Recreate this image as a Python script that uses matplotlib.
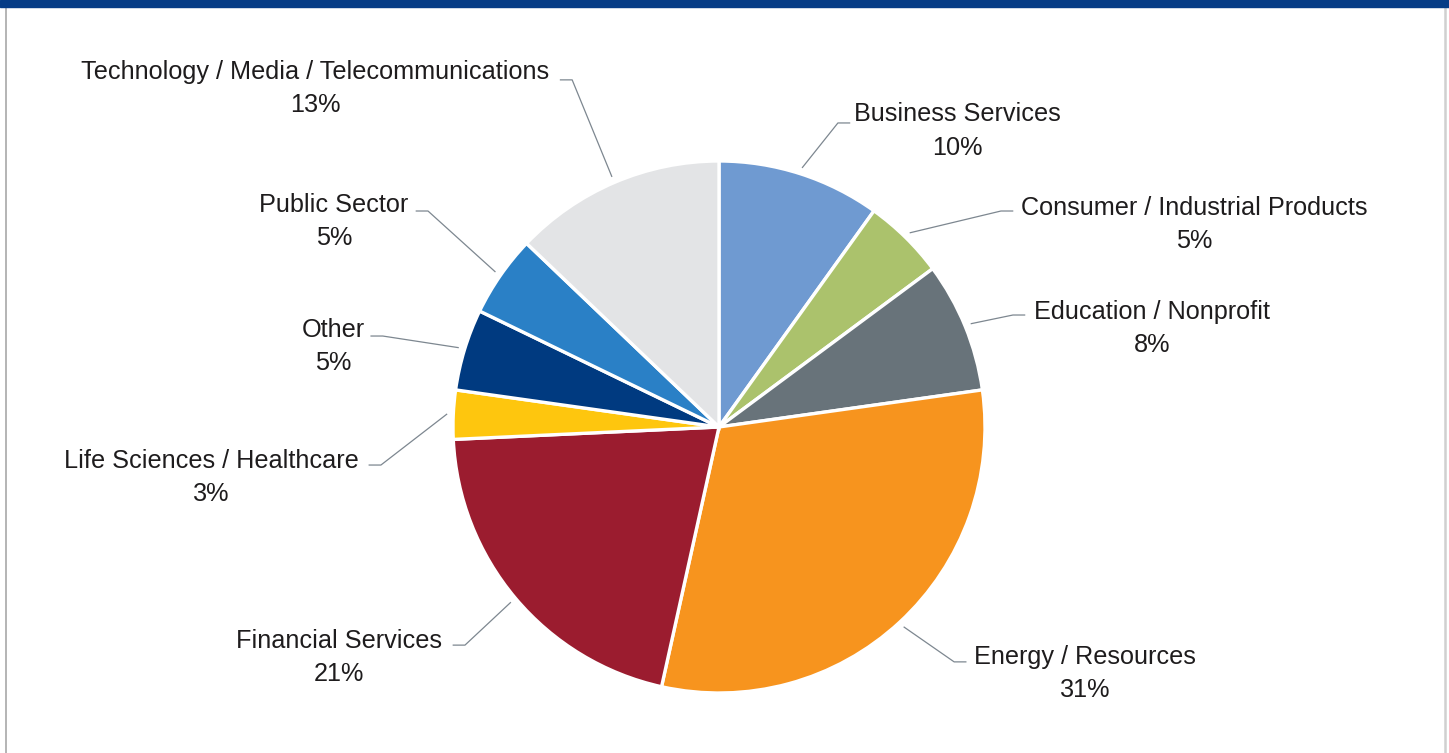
import numpy as np
import matplotlib
matplotlib.use("Agg")
import matplotlib.pyplot as plt
from matplotlib.patches import Rectangle
from matplotlib.lines import Line2D

plt.rcParams["font.family"] = ["Liberation Sans", "DejaVu Sans"]

# Industry mix
sectors = [
    "Business Services",
    "Consumer / Industrial Products",
    "Education / Nonprofit",
    "Energy / Resources",
    "Financial Services",
    "Life Sciences / Healthcare",
    "Other",
    "Public Sector",
    "Technology / Media / Telecommunications",
]
shares = [10, 5, 8, 31, 21, 3, 5, 5, 13]
colors = ["#6F9AD1", "#ABC26C", "#68737A", "#F7941E", "#9B1C2F",
          "#FEC60E", "#003A80", "#2A80C6", "#E3E4E6"]

# Label layout (data units, pie radius = 1): text centre, elbow point
label_pos = [(0.898, 1.112), (1.786, 0.762), (1.628, 0.371), (1.376, -0.926),
             (-1.429, -0.866), (-1.910, -0.189), (-1.451, 0.303),
             (-1.447, 0.773), (-1.519, 1.273)]
elbows = [(0.447, 1.143), (1.060, 0.812), (1.105, 0.421), (0.884, -0.883),
          (-0.955, -0.820), (-1.271, -0.143), (-1.264, 0.342),
          (-1.094, 0.812), (-0.552, 1.305)]
hlen = 0.044

W, H, DPI = 1449, 753, 100
cx, cy, R = 719, 427, 266

fig = plt.figure(figsize=(W / DPI, H / DPI), dpi=DPI)
ax = fig.add_axes([0, 0, 1, 1])

wedges, _ = ax.pie(shares, colors=colors, startangle=90, counterclock=False,
                   radius=1.0, center=(0, 0),
                   wedgeprops=dict(edgecolor="white", linewidth=2.4))

ax.set_xlim(-cx / R, (W - cx) / R)
ax.set_ylim(-(H - cy) / R, cy / R)
ax.set_aspect("equal", adjustable="datalim")
ax.axis("off")

line_col = "#7D8790"
for w, name, val, (tx, ty), (ex, ey) in zip(wedges, sectors, shares,
                                             label_pos, elbows):
    mid = np.deg2rad((w.theta1 + w.theta2) / 2)
    sx, sy = 1.025 * np.cos(mid), 1.025 * np.sin(mid)
    side = 1 if tx > 0 else -1
    ax.add_line(Line2D([sx, ex, ex + side * hlen], [sy, ey, ey],
                       color=line_col, lw=0.9))
    ax.text(tx, ty, f"{name}\n{val}%", ha="center", va="center",
            fontsize=18.2, color="#1E1C1D", linespacing=1.5)

# Frame: navy top band and thin grey side rules
fig.patches.append(Rectangle((0, 1 - 7 / H), 1, 7 / H, transform=fig.transFigure,
                             color="#063C86", zorder=5))
fig.add_artist(Line2D([5.5 / W, 5.5 / W], [0, 1], transform=fig.transFigure,
                      color="#A8A8A8", lw=1.2))
fig.add_artist(Line2D([1444.5 / W, 1444.5 / W], [0, 1], transform=fig.transFigure,
                      color="#D0D0D0", lw=1.8))

fig.savefig("out.png", dpi=DPI, facecolor="white")
